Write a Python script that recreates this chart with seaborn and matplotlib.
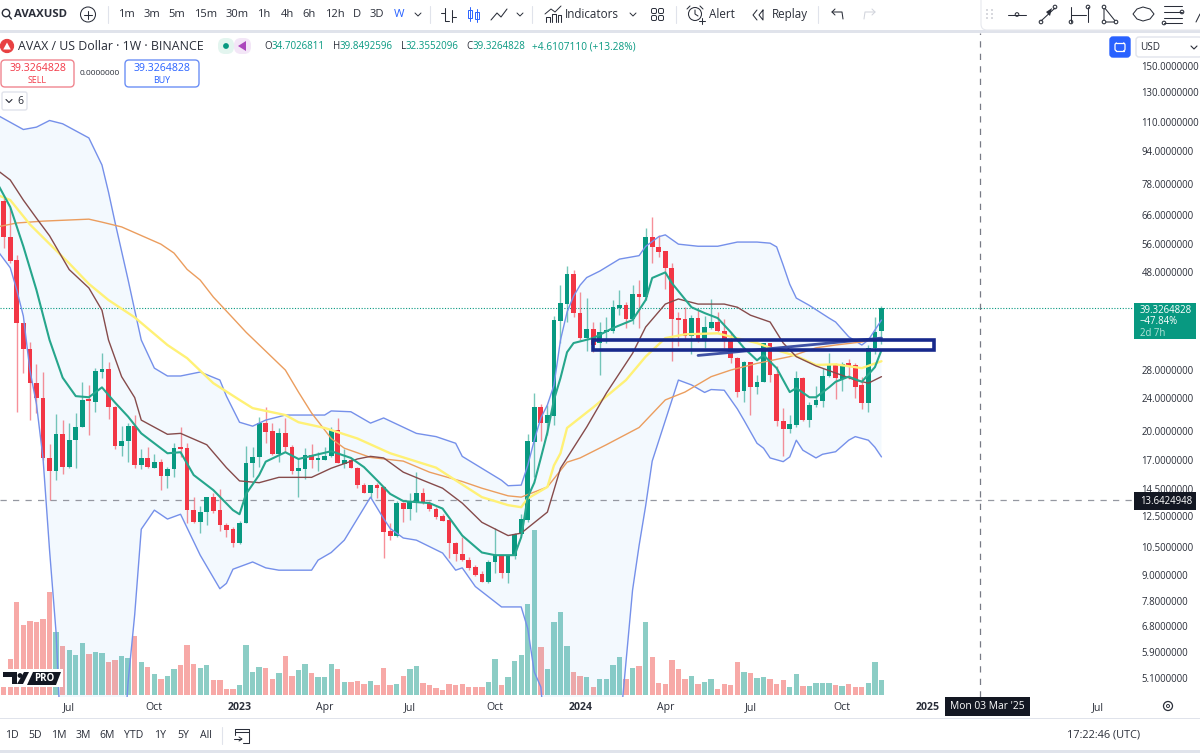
import matplotlib as mpl
mpl.use('agg')
import matplotlib.pyplot as plt
from matplotlib.patches import Rectangle, FancyBboxPatch, Circle, Polygon
import numpy as np
import pandas as pd
import seaborn as sns

# AVAX / USD weekly candles
opens = [71.2, 58.35, 51.3, 36.3, 31.4, 26.05, 23.96, 17.2, 16.0, 19.6,
         16.4, 18.97, 20.4, 23.7, 23.45, 27.65, 28.05, 22.8, 18.4, 18.85,
         20.5, 16.5, 17.2, 16.3, 16.85, 15.55, 16.15, 18.15, 18.15, 12.89,
         12.05, 12.77, 13.85, 12.89, 11.85, 11.6, 10.74, 12.0, 16.75, 17.3,
         20.9, 19.95, 17.55, 19.7, 18.25, 15.98, 16.2, 17.45, 17.0, 17.05,
         17.35, 20.05, 16.65, 17.0, 16.3, 14.85, 14.2, 14.85, 14.65, 11.5,
         11.2, 13.4, 13.0, 13.5, 14.2, 13.4, 13.0, 12.45, 12.2, 10.75,
         10.1, 9.78, 9.4, 9.05, 8.67, 9.68, 10.0, 9.1, 10.0, 11.3,
         12.2, 18.75, 22.75, 20.9, 21.7, 36.7, 40.25, 47.55, 38.3, 33.35,
         35.05, 32.45, 34.5, 34.65, 39.4, 39.95, 37.05, 42.55, 41.9, 58.2,
         55.2, 53.9, 49.1, 37.05, 37.05, 33.75, 37.25, 32.9, 35.25, 36.5,
         34.65, 32.9, 29.85, 24.9, 29.15, 25.5, 26.2, 32.4, 27.35, 21.1,
         20.15, 20.6, 26.8, 21.2, 23.0, 23.6, 27.1, 28.85, 26.55, 29.0,
         28.75, 25.7, 23.25, 31.6, 34.70]
closes = [58.35, 51.1, 36.3, 31.4, 26.05, 23.96, 17.2, 16.0, 19.6, 16.4,
          18.97, 20.4, 23.7, 23.55, 27.8, 28.1, 22.75, 18.4, 18.85, 20.5,
          16.5, 17.2, 16.35, 16.85, 15.55, 16.15, 18.15, 18.05, 12.89, 12.05,
          12.77, 13.85, 12.8, 11.85, 11.58, 10.74, 12.0, 16.75, 17.25, 20.9,
          19.85, 17.55, 19.7, 18.25, 15.98, 16.3, 17.45, 17.0, 17.2, 17.35,
          20.1, 16.75, 17.0, 16.3, 14.85, 14.2, 14.8, 14.6, 11.43, 11.2,
          13.4, 13.0, 13.5, 14.2, 13.45, 13.0, 12.4, 12.15, 10.75, 10.1,
          9.78, 9.37, 9.0, 8.67, 9.68, 10.05, 9.1, 10.0, 11.3, 12.25,
          18.85, 22.75, 20.85, 21.8, 36.85, 40.45, 47.55, 38.3, 33.35, 35.05,
          32.1, 34.5, 34.85, 39.55, 39.95, 37.05, 42.55, 41.85, 58.3, 55.2,
          53.7, 49.1, 37.1, 36.9, 33.75, 37.25, 32.9, 35.45, 36.5, 34.65,
          32.8, 29.85, 24.8, 29.2, 25.5, 26.2, 32.45, 27.2, 21.1, 20.15,
          20.7, 26.8, 21.2, 23.1, 23.7, 27.1, 28.85, 26.75, 28.85, 28.6,
          25.5, 23.3, 31.6, 34.5, 39.33]
highs = [72.7, 68.4, 52.7, 36.3, 32.7, 28.85, 27.65, 18.55, 21.9, 21.2,
         20.9, 22.05, 26.2, 25.7, 28.25, 30.7, 29.2, 22.9, 20.5, 20.9,
         21.8, 18.05, 18.25, 17.55, 17.1, 16.4, 18.7, 20.4, 18.7, 13.87,
         13.2, 13.87, 14.15, 14.47, 12.0, 11.75, 12.15, 18.4, 18.3, 21.6,
         22.8, 20.9, 20.25, 21.45, 18.5, 17.2, 18.15, 18.55, 17.8, 18.3,
         20.4, 21.45, 18.05, 17.2, 16.4, 14.95, 14.85, 14.95, 14.7, 12.0,
         13.55, 13.5, 14.15, 15.9, 14.55, 13.55, 13.1, 12.65, 12.25, 10.8,
         11.1, 9.95, 9.5, 9.2, 9.78, 11.7, 10.07, 10.05, 11.37, 12.6,
         19.6, 24.6, 23.2, 23.05, 37.7, 44.7, 49.7, 48.6, 43.1, 41.6,
         36.5, 36.5, 37.5, 41.15, 43.5, 40.8, 44.75, 45.95, 61.3, 65.2,
         59.0, 53.95, 50.5, 38.55, 39.55, 37.85, 38.9, 37.65, 41.45, 38.55,
         37.05, 34.5, 30.05, 29.4, 29.3, 27.2, 32.5, 32.5, 28.6, 22.65,
         21.8, 27.85, 26.95, 23.45, 25.65, 28.25, 30.7, 29.0, 29.2, 29.65,
         29.05, 26.95, 32.05, 37.5, 39.85]
lows = [54.9, 50.6, 22.2, 27.5, 21.2, 22.05, 17.0, 13.62, 15.2, 15.7,
        16.25, 16.3, 20.35, 19.5, 22.2, 26.75, 21.35, 18.05, 17.35, 16.85,
        16.25, 16.15, 16.3, 16.25, 14.4, 14.55, 15.5, 17.3, 12.0, 12.0,
        11.37, 11.85, 12.67, 11.47, 11.12, 10.52, 10.67, 12.0, 15.5, 16.4,
        18.65, 17.45, 16.85, 17.8, 15.7, 13.85, 15.3, 16.3, 16.0, 17.0,
        17.3, 16.75, 16.3, 16.3, 14.55, 14.15, 13.75, 13.75, 9.9, 10.92,
        11.1, 12.05, 12.2, 12.77, 13.3, 12.85, 12.25, 12.15, 9.9, 9.72,
        9.72, 9.25, 8.95, 8.65, 8.6, 9.1, 8.85, 8.6, 9.83, 11.25,
        12.1, 15.5, 18.85, 19.5, 20.6, 32.45, 36.5, 37.5, 33.0, 31.1,
        30.95, 27.2, 32.45, 34.25, 37.85, 35.25, 36.05, 35.3, 41.15, 50.5,
        52.1, 43.75, 29.35, 31.95, 33.0, 30.5, 32.7, 31.6, 35.05, 34.5,
        31.6, 29.05, 24.05, 23.45, 21.8, 24.5, 26.1, 26.2, 20.5, 17.35,
        19.7, 20.4, 21.1, 20.35, 22.75, 22.75, 26.9, 23.8, 24.9, 26.6,
        23.95, 22.5, 22.2, 30.5, 32.36]
volumes = [17, 36, 93, 70, 74, 73, 76, 103, 63, 49,
           45, 40, 52, 41, 43, 42, 33, 35, 39, 37,
           59, 33, 28, 21, 16, 19, 26, 30, 50, 31,
           27, 30, 15, 15, 6, 6, 10, 50, 23, 28,
           27, 16, 22, 39, 19, 25, 31, 22, 18, 18,
           31, 26, 13, 13, 14, 11, 14, 10, 27, 10,
           11, 19, 26, 29, 12, 10, 7, 5, 11, 10,
           11, 8, 8, 8, 13, 36, 10, 18, 34, 40,
           91, 165, 48, 26, 73, 83, 49, 23, 19, 18,
           8, 16, 16, 30, 38, 16, 27, 29, 73, 38,
           12, 11, 35, 26, 16, 19, 11, 13, 16, 6,
           11, 10, 33, 23, 22, 17, 18, 16, 11, 15,
           8, 21, 9, 9, 12, 12, 12, 10, 9, 11,
           8, 8, 12, 33, 15]

# indicators, read at the bars where the curves bend
upper_bars = [-1, 3, 5, 7, 9, 13, 15, 16, 17, 19, 20, 21, 23, 25, 27, 30, 33, 34, 36, 38, 40, 43, 49, 50, 53, 56, 58,
              63, 66, 69, 70, 76, 77, 79, 80, 81, 82, 83, 84, 85, 86, 87, 88, 89, 91, 94, 97, 98, 100, 101, 103, 106,
              109, 112, 115, 117, 118, 119, 120, 121, 123, 126, 127, 129, 131, 132, 134]
upper_band = [114.4, 105.6, 107.0, 111.0, 109.0, 100.8, 86.8, 74.7, 63.2, 45.95, 38.9, 33.0, 28.25, 27.05, 27.05,
              27.65, 26.45, 24.2, 20.95, 20.5, 21.2, 21.8, 21.8, 22.3, 22.2, 20.85, 21.45,
              19.7, 19.35, 18.65, 17.35, 15.2, 14.75, 14.8, 16.5, 18.97, 21.45, 23.05, 25.7, 33.0, 38.5, 42.05, 44.7,
              46.6, 48.3, 51.6, 52.6, 55.35, 58.4, 59.0, 56.05, 55.4,
              55.4, 56.7, 56.7, 56.35, 55.2, 49.9, 44.9, 41.6, 39.95, 37.25, 36.45, 33.6, 32.1, 33.0, 36.85]
lower_bars = [-1, 1, 2, 3, 4, 5, 6, 7, 8, 9, 18, 19, 20, 21, 23, 25, 27, 30, 33, 34, 35, 38, 40, 42, 47, 48, 50, 52,
              56, 58, 59, 61, 63, 67, 69, 70, 72, 76, 79, 80, 81, 82, 83, 93, 94, 95, 96, 97, 98, 99, 103, 105,
              107, 108, 110, 112, 113, 115, 116, 117, 119, 120, 121, 122, 124, 125, 127, 129, 130, 132, 133, 134]
lower_band = [54.2, 49.2, 43.5, 37.65, 27.95, 23.15, 17.2, 10.33, 6.54, 2.9, 2.95, 5.0, 7.24, 11.6, 12.89, 12.27,
              12.6, 10.05, 8.35, 8.6, 9.3, 9.68, 9.37, 9.25, 9.25, 9.78, 10.2, 10.92,
              13.85, 12.3, 11.65, 11.05, 10.92, 10.17, 9.25, 9.37, 8.45, 7.55, 7.55, 6.7, 5.27, 4.85, 3.2, 3.2, 3.75,
              5.57, 8.28, 10.6, 13.2, 16.9, 26.45, 25.75,
              24.7, 25.1, 25.0, 22.55, 21.2, 18.65, 18.15, 17.2, 16.85, 17.3, 18.97, 17.95, 17.2, 17.55, 17.8, 18.97,
              19.35, 18.97, 18.25, 17.3]
teal_bars = [-1, 1, 3, 5, 7, 9, 11, 13, 15, 17, 19, 21, 25, 27, 29, 32, 35, 36, 37, 39, 40, 43, 45, 50, 53, 55, 57,
             59, 61, 65, 67, 70, 73, 75, 78, 79, 80, 81, 82, 83, 84, 85, 86, 87, 90, 93, 96, 98, 99, 101, 102, 105,
             107, 109, 111, 113, 115, 116, 118, 120, 121, 123, 124, 126, 127, 129, 131, 133, 134]
teal_ma = [78.6, 68.8, 55.35, 43.5, 33.0, 26.8, 24.2, 24.05, 25.4, 23.35, 21.6, 19.7, 17.65, 17.75, 15.65, 14.4,
           12.89, 12.6, 14.1, 15.65, 16.85, 17.75, 17.1, 17.85, 17.2, 16.35, 15.2,
           14.1, 13.55, 13.4, 13.0, 11.2, 10.2, 10.05, 10.05, 11.1, 13.85, 15.0, 17.2, 19.8, 23.7, 26.75, 30.85, 32.45,
           33.35, 35.25, 36.85, 41.15, 46.5, 47.95, 45.2, 39.55,
           38.3, 37.25, 34.45, 31.6, 29.5, 30.35, 28.25, 24.75, 25.3, 24.05, 24.05, 25.4, 26.2, 26.95, 26.2, 28.4, 31.2]
maroon_bars = [-1, 1, 3, 5, 7, 10, 13, 15, 16, 18, 20, 21, 25, 27, 31, 34, 36, 39, 42, 47, 50, 54, 56, 58, 61, 64,
               67, 70, 73, 77, 79, 83, 85, 89, 92, 96, 98, 101, 103, 106, 110, 112, 114, 117, 119, 121, 124, 127,
               130, 132, 134]
maroon_ma = [84.4, 79.9, 71.5, 64.7, 58.7, 48.7, 44.0, 38.9, 33.0, 26.95, 24.0, 21.2, 19.6, 19.7, 18.5, 16.3, 15.15,
             15.0, 15.45, 15.45, 16.25, 17.1, 17.35, 17.2, 15.9, 15.2,
             14.55, 13.4, 12.05, 11.2, 11.35, 12.75, 16.25, 20.4, 24.6, 30.65, 35.45, 40.25, 41.4, 40.25, 40.25, 39.55,
             37.85, 36.45, 32.45, 30.1, 28.6, 27.5, 26.45, 26.0, 26.95]
yellow_bars = [-1, 1, 4, 10, 13, 16, 20, 25, 28, 32, 36, 38, 43, 45, 49, 54, 59, 66, 69, 73, 77, 79, 80, 83, 84, 85,
               86, 90, 95, 98, 101, 104, 109, 111, 115, 118, 121, 124, 127, 131, 134]
yellow_ma = [73.6, 71.5, 62.5, 50.4, 45.0, 41.15, 37.4, 32.1, 29.85, 26.0, 23.7, 22.65, 21.8, 20.95, 20.3, 19.15,
             17.65, 16.3, 15.2, 13.85, 13.25, 13.1, 13.75, 14.65, 16.5, 17.65,
             20.3, 22.75, 26.45, 30.1, 33.35, 34.05, 34.25, 33.6, 32.45, 31.2, 30.2, 28.75, 28.85, 28.25, 29.35]
orange_bars = [-1, 2, 6, 13, 15, 18, 24, 26, 28, 30, 32, 35, 37, 43, 45, 47, 50, 52, 56, 61, 65, 70, 73, 77, 79, 83,
               86, 88, 92, 97, 101, 104, 108, 111, 115, 120, 124, 127, 131, 134]
orange_ma = [61.65, 63.0, 63.65, 64.35, 63.3, 61.65, 56.05, 53.35, 48.75, 45.95, 41.85, 37.25, 34.45, 27.95, 24.75,
             22.05, 19.15, 18.15, 17.25, 16.9, 15.9, 15.1, 14.55, 13.95, 13.85, 14.65,
             16.8, 17.2, 18.5, 20.35, 23.7, 24.75, 26.95, 27.95, 29.0, 30.1, 31.6, 32.1, 32.65, 33.35]

# axis ticks
price_ticks = [150, 130, 110, 94, 78, 66, 56, 48, 28, 24, 20, 17, 14.5, 12.5, 10.5, 9, 7.8, 6.8, 5.9, 5.1]
time_ticks = [10, 23, 36, 49, 62, 75, 88, 101, 114, 128, 141, 167]
time_labels = ['Jul', 'Oct', '2023', 'Apr', 'Jul', 'Oct', '2024', 'Apr', 'Jul', 'Oct', '2025', 'Jul']
bold_years = ['2023', '2024', '2025']

# hand-drawn level box and trend line, bar index and price
box_bars = [90, 142]
box_prices = [31.3, 33.0]
trend_bars = [106, 134]
trend_prices = [30.3, 33.35]

last_price = 39.33
crosshair_price = 13.64
crosshair_bar = 149

RED = '#f23645'
GREEN = '#089981'
TEXT = '#2a2e39'
FONT = ['Open Sans', 'DejaVu Sans']

sns.set_theme(style="white")
plt.rcParams['font.family'] = FONT
plt.rcParams['axes.unicode_minus'] = False

fig = plt.figure(figsize=(12, 7.53), dpi=100, facecolor='white')

bars = np.arange(len(opens))
x_limits = (-0.565, 172.4)

# volume panel sits under the price panel
ax_vol = fig.add_axes([0, 1 - 695 / 753, 1133 / 1200, 662 / 753])
vol_df = pd.DataFrame({'bar': bars, 'volume': volumes,
                       'side': ['up' if c >= o else 'down' for o, c in zip(opens, closes)]})
sns.barplot(data=vol_df, x='bar', y='volume', hue='side', dodge=False, native_scale=True, width=0.82,
            palette={'up': '#8ccdc5', 'down': '#f7a9a7'}, saturation=1, legend=False, linewidth=0, ax=ax_vol)
ax_vol.set_xlim(x_limits)
ax_vol.set_ylim(0, 662)
ax_vol.axis('off')

ax = fig.add_axes([0, 1 - 697 / 753, 1133 / 1200, 664 / 753])
ax.patch.set_alpha(0)
ax.set_yscale('log')

ax.fill(list(upper_bars) + list(lower_bars[::-1]), list(upper_band) + list(lower_band[::-1]),
        color='#2196f3', alpha=0.05, lw=0, zorder=1)
ax.axhline(last_price, color=GREEN, lw=0.8, ls=(0, (1, 1.5)), zorder=1.5)
ax.axhline(crosshair_price, color='#9598a1', lw=0.9, ls=(0, (5, 5)), zorder=1.5)
ax.axvline(crosshair_bar, color='#787b86', lw=0.9, ls=(0, (5, 5)), zorder=1.5)

# candles
o, h, l, c = map(np.array, (opens, highs, lows, closes))
up = c >= o
colors = np.where(up, GREEN, RED)
ax.vlines(bars, l, h, colors=colors, lw=1.0, alpha=0.55, zorder=2)
ax.bar(bars, np.maximum(np.abs(c - o), 0.012 * c), bottom=np.minimum(o, c), width=0.72, color=colors, lw=0, zorder=3)

# indicator lines
for xs, ys, col, lw in [(upper_bars, upper_band, '#7590ea', 1.0), (lower_bars, lower_band, '#7590ea', 1.0),
                        (orange_bars, orange_ma, '#eb9d5e', 1.0), (yellow_bars, yellow_ma, '#fff176', 1.7),
                        (maroon_bars, maroon_ma, '#864b4b', 1.0), (teal_bars, teal_ma, '#26a68c', 1.5)]:
    sns.lineplot(x=xs, y=ys, color=col, lw=lw, sort=False, estimator=None, ax=ax, zorder=4)

ax.plot(trend_bars, trend_prices, color='#3f52a5', lw=2.0, solid_capstyle='round', zorder=5)
ax.add_patch(Rectangle((box_bars[0], box_prices[0]), box_bars[1] - box_bars[0], box_prices[1] - box_prices[0],
                       fill=False, ec='#17298c', lw=2.6, zorder=6))

ax.set_xlim(x_limits)
ax.set_ylim(4.59, 180.0)
ax.yaxis.tick_right()
ax.set_yticks(price_ticks)
ax.set_yticklabels(['%.7f' % p for p in price_ticks], fontsize=6.9, color=TEXT)
ax.minorticks_off()
ax.set_xticks(time_ticks)
ax.set_xticklabels(time_labels, fontsize=7.6, color=TEXT)
for lab in ax.get_xticklabels():
    if lab.get_text() in bold_years:
        lab.set_fontweight('bold')
ax.tick_params(axis='both', length=0, pad=6)
ax.tick_params(axis='x', pad=3.5)
for s in ax.spines.values():
    s.set_visible(False)
ax.grid(False)

# application chrome, in screen pixels
ui = fig.add_axes([0, 0, 1, 1], zorder=10)
ui.set_xlim(0, 1200)
ui.set_ylim(753, 0)
ui.axis('off')
ui.patch.set_alpha(0)


def label(x, y, s, size=8, color=TEXT, ha='left', weight='normal'):
    ui.text(x, y, s, fontsize=size, color=color, ha=ha, va='center', fontweight=weight)


def stroke(xs, ys, color=TEXT, lw=0.75):
    ui.plot(xs, ys, color=color, lw=lw, solid_capstyle='round')


def ring(x, y, r, color=TEXT, lw=0.75, face='none'):
    ui.add_patch(Circle((x, y), r, fc=face, ec=color, lw=lw))


def rbox(x0, y0, x1, y1, ec, fc='white', lw=1.0, r=3):
    ui.add_patch(FancyBboxPatch((x0, y0), x1 - x0, y1 - y0, boxstyle='round,pad=0,rounding_size=%g' % r,
                                fc=fc, ec=ec, lw=lw))


ui.add_patch(Rectangle((0, 0), 1200, 30, fc='white', ec='none'))
ui.add_patch(Rectangle((0, 30), 1200, 2.5, fc='#e0e3eb', ec='none'))
ui.add_patch(Rectangle((0, 717.5), 1200, 1, fc='#e0e3eb', ec='none'))
ui.add_patch(Rectangle((0, 750), 1200, 3, fc='#e0e3eb', ec='none'))

# top toolbar
ring(6, 13, 3.7, lw=1.0)
stroke([9, 11.5], [16, 19], lw=1.0)
label(14, 14, 'AVAXUSD', 8.2, weight='bold')
ring(88, 14.5, 7.5)
stroke([84, 92], [14.5, 14.5])
stroke([88, 88], [10.5, 18.5])
for x, s in [(126, '1m'), (151.5, '3m'), (177, '5m'), (206, '15m'), (237, '30m'), (264, '1h'), (287, '4h'),
             (309, '6h'), (335, '12h'), (357, 'D'), (377, '3D')]:
    label(x, 14.5, s, 8.0, ha='center')
label(399, 14.5, 'W', 8.2, color='#2962ff', ha='center')
for x in [418, 520, 633]:
    stroke([x - 3, x, x + 3], [13, 16, 13], lw=0.7)
for x in [108, 430, 532, 676, 818]:
    stroke([x, x], [6, 23], color='#e0e3eb', lw=0.8)
stroke([445, 445, 449], [8, 21, 21]); stroke([445, 441], [13, 13]); stroke([452, 452], [10, 22]); stroke([452, 456], [17, 17])
for x, y0, y1, t0, t1 in [(470, 7, 21, 10, 18), (477, 9, 22, 12, 19)]:
    stroke([x, x], [y0, y1], color='#2962ff', lw=0.7)
    ui.add_patch(Rectangle((x - 2, t0), 4, t1 - t0, fc='white', ec='#2962ff', lw=0.7))
stroke([491, 497, 501, 507], [20, 13, 17, 9])
stroke([546, 546, 550, 550], [22, 17, 17, 22]); stroke([552, 552, 556, 556], [22, 14, 14, 22]); stroke([558, 558, 561, 561], [22, 15, 15, 22])
stroke([545, 551, 555, 561], [14, 9, 12, 6], lw=0.7)
label(565, 14.5, 'Indicators', 8.4)
for x, y in [(654, 11), (661, 11), (654, 18), (661, 18)]:
    ui.add_patch(FancyBboxPatch((x - 2.5, y - 2.5), 5, 5, boxstyle='round,pad=0,rounding_size=1.5', fc='none', ec=TEXT, lw=0.7))
ring(695, 14, 6.5)
stroke([695, 695, 698], [10, 14, 16])
stroke([687, 690], [9, 6]); stroke([700, 703], [6, 9]); stroke([699, 705], [21, 21]); stroke([702, 702], [18, 24])
label(709, 14.5, 'Alert', 8.4)
stroke([757, 753, 757], [10, 15, 20]); stroke([763, 759, 763, 763], [10, 15, 20, 10])
label(772, 14.5, 'Replay', 8.4)
stroke([832, 842, 843], [12, 12, 19]); stroke([835, 832, 835], [9, 12, 15])
stroke([875, 865, 864], [12, 12, 19], color='#d1d4dc'); stroke([872, 875, 872], [9, 12, 15], color='#d1d4dc')

# floating drawing toolbox
rbox(981, -8, 1212, 30, ec='#e6e8ee', lw=0.8, r=6)
for x in [987, 992]:
    for y in [10, 14, 18]:
        ui.add_patch(Circle((x, y), 0.8, fc='#b2b5be', ec='none'))
stroke([1008, 1026], [14.5, 14.5]); ring(1017, 14.5, 1.8, face='white')
stroke([1041, 1055], [21, 8]); ring(1041, 22, 1.8, face='white'); ring(1055, 7, 1.8, face='white')
ui.add_patch(Polygon([[1052, 8], [1046, 12], [1050, 16]], fc=TEXT, ec='none'))
stroke([1071, 1071], [7, 22]); stroke([1088, 1088], [7, 22]); stroke([1071, 1086], [15, 15])
ring(1071, 22, 1.8, face='white'); ring(1088, 7, 1.8, face='white')
ui.add_patch(Polygon([[1104, 7], [1104, 22], [1116, 22]], fc='none', ec=TEXT, lw=0.75))
ring(1104, 7, 1.8, face='white'); ring(1104, 22, 1.8, face='white'); ring(1116, 22, 1.8, face='white')
ui.add_patch(Polygon([[1133, 14], [1137, 9], [1143, 7], [1150, 9], [1154, 14], [1150, 19], [1143, 21], [1137, 19]],
                     fc='none', ec=TEXT, lw=0.75))
for y in [6, 12, 18, 23]:
    stroke([1164, 1182], [y, y])
ring(1182, 12, 1.8, face='white'); ring(1164, 23, 1.8, face='white')
stroke([1196, 1200], [22, 14])

# symbol header
ring(7, 46, 6.6, color='#e84142', face='#e84142')
ui.add_patch(Polygon([[7, 42.5], [10.8, 49.5], [3.2, 49.5]], fc='white', ec='none'))
label(18.5, 46.5, 'AVAX / US Dollar · 1W · BINANCE', 8.9)
rbox(218, 38, 234, 54, ec='none', fc='#e3f5ef', r=7)
rbox(234, 38, 251, 54, ec='none', fc='#f3e6f7', r=7)
ui.add_patch(Circle((226, 46), 2.9, fc=GREEN, ec='none'))
ui.add_patch(Polygon([[246, 41], [246, 51], [238, 46]], fc='#ab47bc', ec='none'))
for lx, letter, vx, val in [(264, 'O', 272, '34.7026811'), (333, 'H', 340, '39.8492596'),
                            (401.5, 'L', 406, '32.3552096'), (466.5, 'C', 473, '39.3264828')]:
    label(lx, 46.5, letter, 7.0)
    label(vx, 46.5, val, 7.0, color=GREEN)
label(532, 46.5, '+4.6107110 (+13.28%)', 7.3, color=GREEN)

rbox(1, 60, 74, 87, ec='#f0868f', r=4)
label(37.5, 68, '39.3264828', 7.6, color=RED, ha='center')
label(37.5, 80, 'SELL', 6.4, color=RED, ha='center')
label(100, 73.5, '0.0000000', 6.0, ha='center')
rbox(125, 60, 199, 87, ec='#6c8ff5', r=4)
label(162, 68, '39.3264828', 7.6, color='#2962ff', ha='center')
label(162, 80, 'BUY', 6.4, color='#2962ff', ha='center')
rbox(2, 92, 27, 110, ec='#e0e3eb', r=2)
stroke([6, 9, 12], [99.5, 102.5, 99.5], lw=0.8)
label(17, 101, '6', 7.6)

# scale controls
rbox(1110, 37, 1130, 57, ec='#2962ff', fc='#2962ff', r=3)
rbox(1115, 43, 1125, 51, ec='white', fc='none', lw=0.9, r=2)
ui.add_patch(Rectangle((1117, 41), 6, 12, fc='#2962ff', ec='none'))
stroke([1116, 1124], [43, 43], color='white', lw=0.9)
stroke([1116, 1124], [51, 51], color='white', lw=0.9)
rbox(1136, 37, 1202, 57, ec='#e0e3eb', r=3)
label(1140, 47, 'USD', 7.2)
stroke([1191, 1194, 1197], [46, 49, 46], lw=0.8)

# last price and crosshair tags
ui.add_patch(Rectangle((1134, 303), 61.5, 36, fc=GREEN, ec='none'))
label(1140, 310, '39.3264828', 6.9, color='white')
label(1140, 321.5, '−47.84%', 6.9, color='white')
label(1140, 333, '2d 7h', 6.9, color='#b5e3d8')
ui.add_patch(Rectangle((1134, 492), 61.5, 18, fc='#131722', ec='none'))
label(1140, 501.5, '13.6424948', 6.9, color='white')
ui.add_patch(Rectangle((945, 697), 85, 19, fc='#131722', ec='none'))
label(987.5, 706.5, "Mon 03 Mar '25", 7.4, color='white', ha='center')

# watermark
ui.add_patch(Rectangle((1, 669), 62, 18, fc='white', ec='none'))
ui.add_patch(Polygon([[3, 672], [17, 672], [17, 684], [12, 684], [12, 677], [3, 677]], fc='#131722', ec='none'))
ui.add_patch(Circle((20, 675.5), 2.4, fc='#131722', ec='none'))
ui.add_patch(Polygon([[24, 672], [29, 672], [23, 684], [17, 684]], fc='#131722', ec='none'))
ui.add_patch(Polygon([[33, 672], [61, 672], [56, 685], [27, 685]], fc='#131722', ec='none'))
label(44, 678.5, 'PRO', 7.0, color='white', ha='center', weight='bold')

# bottom bar
for x, s in [(12, '1D'), (35, '5D'), (59, '1M'), (83, '3M'), (107, '6M'), (134, 'YTD'), (160, '1Y'), (183, '5Y'), (206, 'All')]:
    label(x, 735, s, 7.6, ha='center')
stroke([222, 222], [727, 744], color='#e0e3eb', lw=0.8)
stroke([235, 235, 249, 249, 243], [735, 729, 729, 743, 743])
stroke([235, 249], [732, 732])
stroke([234, 241], [739, 739]); stroke([239, 242, 239], [737, 739, 741], lw=0.7)
label(1140, 735, '17:22:46 (UTC)', 7.8, ha='right')
ring(1168, 706, 4.5, lw=0.9)
ring(1168, 706, 1.5, lw=0.7)

fig.savefig('out.png', dpi=100, facecolor='white')
